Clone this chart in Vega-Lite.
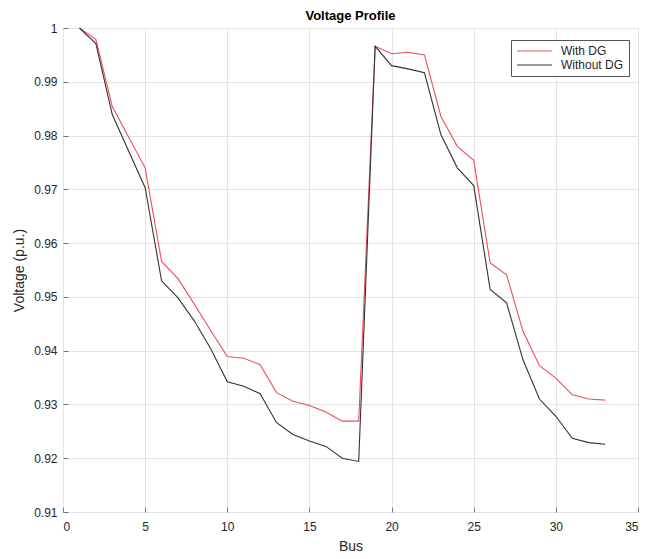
{
  "$schema": "https://vega.github.io/schema/vega-lite/v6.json",
  "width": 575,
  "height": 484,
  "autosize": "none",
  "padding": {"left": 63, "top": 28, "right": 12, "bottom": 47},
  "background": "white",
  "config": {
    "font": "Liberation Sans",
    "view": {"stroke": "#7a7a7a", "strokeWidth": 1},
    "axis": {
      "gridColor": "#e4e4e4",
      "gridWidth": 1,
      "domain": false,
      "tickColor": "#7a7a7a",
      "tickSize": -5,
      "labelFontSize": 12,
      "labelColor": "#262626",
      "titleFontSize": 14,
      "titleFontWeight": "normal",
      "titleColor": "#262626"
    }
  },
  "title": {"text": "Voltage Profile", "fontSize": 13, "fontWeight": "bold", "color": "#000000", "offset": -1, "font": "Liberation Sans"},
  "data": {"values": [
    {"bus": 1, "series": "With DG", "v": 1.0},
    {"bus": 2, "series": "With DG", "v": 0.9979},
    {"bus": 3, "series": "With DG", "v": 0.9854},
    {"bus": 4, "series": "With DG", "v": 0.9797},
    {"bus": 5, "series": "With DG", "v": 0.9740},
    {"bus": 6, "series": "With DG", "v": 0.9566},
    {"bus": 7, "series": "With DG", "v": 0.9534},
    {"bus": 8, "series": "With DG", "v": 0.9486},
    {"bus": 9, "series": "With DG", "v": 0.9437},
    {"bus": 10, "series": "With DG", "v": 0.9389},
    {"bus": 11, "series": "With DG", "v": 0.9386},
    {"bus": 12, "series": "With DG", "v": 0.9374},
    {"bus": 13, "series": "With DG", "v": 0.9322},
    {"bus": 14, "series": "With DG", "v": 0.9306},
    {"bus": 15, "series": "With DG", "v": 0.9298},
    {"bus": 16, "series": "With DG", "v": 0.9286},
    {"bus": 17, "series": "With DG", "v": 0.9269},
    {"bus": 18, "series": "With DG", "v": 0.9269},
    {"bus": 19, "series": "With DG", "v": 0.9966},
    {"bus": 20, "series": "With DG", "v": 0.9952},
    {"bus": 21, "series": "With DG", "v": 0.9955},
    {"bus": 22, "series": "With DG", "v": 0.9950},
    {"bus": 23, "series": "With DG", "v": 0.9836},
    {"bus": 24, "series": "With DG", "v": 0.9780},
    {"bus": 25, "series": "With DG", "v": 0.9754},
    {"bus": 26, "series": "With DG", "v": 0.9563},
    {"bus": 27, "series": "With DG", "v": 0.9541},
    {"bus": 28, "series": "With DG", "v": 0.9436},
    {"bus": 29, "series": "With DG", "v": 0.9372},
    {"bus": 30, "series": "With DG", "v": 0.9349},
    {"bus": 31, "series": "With DG", "v": 0.9318},
    {"bus": 32, "series": "With DG", "v": 0.9310},
    {"bus": 33, "series": "With DG", "v": 0.9308},
    {"bus": 1, "series": "Without DG", "v": 1.0},
    {"bus": 2, "series": "Without DG", "v": 0.9971},
    {"bus": 3, "series": "Without DG", "v": 0.9839},
    {"bus": 4, "series": "Without DG", "v": 0.9771},
    {"bus": 5, "series": "Without DG", "v": 0.9703},
    {"bus": 6, "series": "Without DG", "v": 0.9530},
    {"bus": 7, "series": "Without DG", "v": 0.9498},
    {"bus": 8, "series": "Without DG", "v": 0.9455},
    {"bus": 9, "series": "Without DG", "v": 0.9403},
    {"bus": 10, "series": "Without DG", "v": 0.9342},
    {"bus": 11, "series": "Without DG", "v": 0.9334},
    {"bus": 12, "series": "Without DG", "v": 0.9320},
    {"bus": 13, "series": "Without DG", "v": 0.9266},
    {"bus": 14, "series": "Without DG", "v": 0.9244},
    {"bus": 15, "series": "Without DG", "v": 0.9232},
    {"bus": 16, "series": "Without DG", "v": 0.9222},
    {"bus": 17, "series": "Without DG", "v": 0.9200},
    {"bus": 18, "series": "Without DG", "v": 0.9194},
    {"bus": 19, "series": "Without DG", "v": 0.9966},
    {"bus": 20, "series": "Without DG", "v": 0.9930},
    {"bus": 21, "series": "Without DG", "v": 0.9924},
    {"bus": 22, "series": "Without DG", "v": 0.9917},
    {"bus": 23, "series": "Without DG", "v": 0.9802},
    {"bus": 24, "series": "Without DG", "v": 0.9740},
    {"bus": 25, "series": "Without DG", "v": 0.9707},
    {"bus": 26, "series": "Without DG", "v": 0.9514},
    {"bus": 27, "series": "Without DG", "v": 0.9489},
    {"bus": 28, "series": "Without DG", "v": 0.9383},
    {"bus": 29, "series": "Without DG", "v": 0.9310},
    {"bus": 30, "series": "Without DG", "v": 0.9278},
    {"bus": 31, "series": "Without DG", "v": 0.9237},
    {"bus": 32, "series": "Without DG", "v": 0.9229},
    {"bus": 33, "series": "Without DG", "v": 0.9226}
  ]},
  "mark": {"type": "line", "strokeWidth": 1.1},
  "encoding": {
    "x": {
      "field": "bus", "type": "quantitative", "title": "Bus",
      "scale": {"domain": [0, 35], "nice": false, "zero": false},
      "axis": {"values": [0, 5, 10, 15, 20, 25, 30, 35], "labelPadding": 14, "titlePadding": 7}
    },
    "y": {
      "field": "v", "type": "quantitative", "title": "Voltage (p.u.)",
      "scale": {"domain": [0.91, 1.0], "nice": false, "zero": false},
      "axis": {
        "values": [0.91, 0.92, 0.93, 0.94, 0.95, 0.96, 0.97, 0.98, 0.99, 1.0],
        "labelExpr": "datum.value >= 0.9999 ? '1' : format(datum.value, '.2f')",
        "labelPadding": 11, "titlePadding": 7
      }
    },
    "color": {
      "field": "series", "type": "nominal",
      "scale": {"domain": ["With DG", "Without DG"], "range": ["#ee4d5a", "#333333"]},
      "legend": {
        "title": null,
        "orient": "none",
        "legendX": 448,
        "legendY": 12,
        "padding": 5,
        "strokeColor": "#555555",
        "fillColor": "white",
        "symbolType": "M-1,0H6",
        "symbolSize": 100,
        "symbolStrokeWidth": 1.1,
        "labelFontSize": 12,
        "labelColor": "#262626",
        "labelOffset": 33,
        "rowPadding": 2
      }
    }
  }
}
